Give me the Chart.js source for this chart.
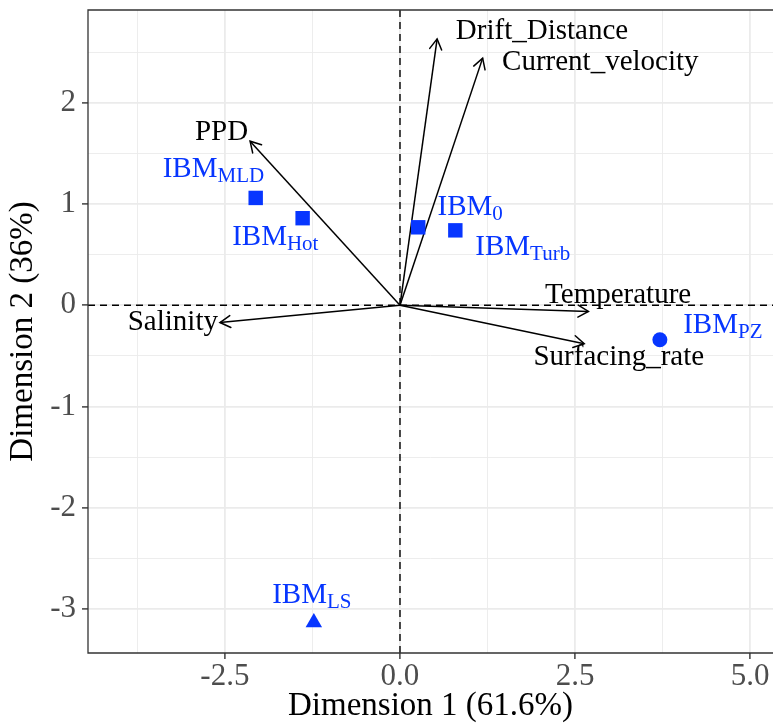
<!DOCTYPE html>
<html>
<head>
<meta charset="utf-8">
<title>PCA biplot</title>
<script src="https://cdn.jsdelivr.net/npm/chart.js@4/dist/chart.umd.min.js"></script>
<style>
  html, body { margin: 0; padding: 0; overflow: hidden; background: #ffffff; }
  #biplot { display: block; }
</style>
</head>
<body>
<canvas id="biplot" width="773" height="723" style="width:773px;height:723px"></canvas>
<script>
// Variable loadings (arrows) on the first two dimensions
const variables   = ['Drift_Distance', 'Current_velocity', 'PPD', 'Salinity', 'Temperature', 'Surfacing_rate'];
const loadingDim1 = [0.53, 1.18, -2.14, -2.57, 2.69, 2.63];
const loadingDim2 = [2.63, 2.44, 1.62, -0.17, -0.06, -0.38];

// Scenario scores (points); label is "IBM" with the scenario as subscript
const scenarios = ['MLD', 'Hot', '0', 'Turb', 'PZ', 'LS'];
const scoreDim1 = [-2.06, -1.39, 0.26, 0.79, 3.71, -1.23];
const scoreDim2 = [1.06, 0.86, 0.77, 0.74, -0.34, -3.13];

// Axis ticks
const xTicks      = [-2.5, 0, 2.5, 5];
const xMinorTicks = [-3.75, -1.25, 1.25, 3.75];
const yTicks      = [-3, -2, -1, 0, 1, 2];
const yMinorTicks = [-2.5, -1.5, -0.5, 0.5, 1.5, 2.5];
const xLimits = [-4.454, 5.325];
const yLimits = [-3.432, 2.915];

// ---- styling ----
const SERIF = '"Liberation Serif", "Times New Roman", Times, serif';
const BLUE = '#0736ff';
const pointShapes = ['rect', 'rect', 'rect', 'rect', 'circle', 'triangle'];
const pointSizes  = [10.2, 10.2, 10.2, 10.2, 7.5, 9.5];
// text placement relative to the mark, in pixels
const varLabelPlacement = [
  { align: 'left',   dx: 18.7, dy: 0 },
  { align: 'left',   dx: 19.4, dy: 12 },
  { align: 'right',  dx: -2,   dy: -0.7 },
  { align: 'right',  dx: -2,   dy: 7.3 },
  { align: 'center', dx: 29.7, dy: -8.4 },
  { align: 'center', dx: 34.6, dy: 21 }
];
const scenLabelPlacement = [
  { align: 'left',   dx: -93,   dy: -20.7 },
  { align: 'left',   dx: -70.5, dy: 27 },
  { align: 'left',   dx: 19.3,  dy: -12 },
  { align: 'left',   dx: 20,    dy: 25 },
  { align: 'left',   dx: 23.3,  dy: -6.7 },
  { align: 'center', dx: -2,    dy: -19 }
];

const isIn = (arr, v) => arr.some(a => Math.abs(a - v) < 1e-9);

// keep the panel exactly where the axes' fixed sizes put it
function noEdgePadding(scale) {
  scale.paddingLeft = 0;
  scale.paddingRight = 0;
  scale.paddingTop = 0;
  scale.paddingBottom = 0;
}

const datasets = [];
// scenario points (top)
datasets.push({
  type: 'scatter',
  order: 0,
  data: scoreDim1.map((v, i) => ({ x: v, y: scoreDim2[i] })),
  pointStyle: pointShapes,
  pointRadius: pointSizes,
  backgroundColor: BLUE,
  borderColor: BLUE,
  borderWidth: 0
});
// loading arrows from the origin
variables.forEach((name, i) => {
  datasets.push({
    type: 'line',
    order: 1,
    label: name,
    data: [{ x: 0, y: 0 }, { x: loadingDim1[i], y: loadingDim2[i] }],
    borderColor: '#000000',
    borderWidth: 1.5,
    pointRadius: 0,
    fill: false,
    tension: 0
  });
});
// dashed reference lines through the origin
datasets.push({
  type: 'line', order: 2,
  data: [{ x: xLimits[0], y: 0 }, { x: xLimits[1], y: 0 }],
  borderColor: '#000000', borderWidth: 1.4, borderDash: [7, 5], pointRadius: 0, fill: false
});
datasets.push({
  type: 'line', order: 2,
  data: [{ x: 0, y: yLimits[0] }, { x: 0, y: yLimits[1] }],
  borderColor: '#000000', borderWidth: 1.4, borderDash: [7, 5], pointRadius: 0, fill: false
});

const biplotOverlay = {
  id: 'biplotOverlay',
  afterDatasetsDraw(chart) {
    const { ctx, chartArea, scales: { x, y } } = chart;
    ctx.save();

    // open arrowheads on the loading vectors
    ctx.strokeStyle = '#000000';
    ctx.lineWidth = 1.5;
    ctx.lineCap = 'round';
    variables.forEach((name, i) => {
      const x0 = x.getPixelForValue(0), y0 = y.getPixelForValue(0);
      const x1 = x.getPixelForValue(loadingDim1[i]), y1 = y.getPixelForValue(loadingDim2[i]);
      const ang = Math.atan2(y1 - y0, x1 - x0);
      const len = 12, spread = Math.PI / 6;
      ctx.beginPath();
      ctx.moveTo(x1 - len * Math.cos(ang - spread), y1 - len * Math.sin(ang - spread));
      ctx.lineTo(x1, y1);
      ctx.lineTo(x1 - len * Math.cos(ang + spread), y1 - len * Math.sin(ang + spread));
      ctx.stroke();
    });

    // variable names
    ctx.fillStyle = '#000000';
    ctx.textBaseline = 'alphabetic';
    ctx.font = '29px ' + SERIF;
    variables.forEach((name, i) => {
      const p = varLabelPlacement[i];
      ctx.textAlign = p.align;
      ctx.fillText(name, x.getPixelForValue(loadingDim1[i]) + p.dx, y.getPixelForValue(loadingDim2[i]) + p.dy);
    });

    // scenario names: IBM with subscript
    ctx.fillStyle = BLUE;
    ctx.textAlign = 'left';
    const mainFont = '29px ' + SERIF, subFont = '21px ' + SERIF;
    scenarios.forEach((sub, i) => {
      const p = scenLabelPlacement[i];
      ctx.font = mainFont;
      const wMain = ctx.measureText('IBM').width;
      ctx.font = subFont;
      const wSub = ctx.measureText(sub).width;
      const px = x.getPixelForValue(scoreDim1[i]) + p.dx;
      const py = y.getPixelForValue(scoreDim2[i]) + p.dy;
      const left = p.align === 'center' ? px - (wMain + wSub) / 2 : px;
      ctx.font = mainFont;
      ctx.fillText('IBM', left, py);
      ctx.font = subFont;
      ctx.fillText(sub, left + wMain, py + 4.5);
    });

    // panel border: left, top and bottom (the panel runs on past the right edge)
    ctx.strokeStyle = '#333333';
    ctx.lineWidth = 1.3;
    ctx.lineCap = 'butt';
    ctx.beginPath();
    ctx.moveTo(chartArea.right + 2, chartArea.top);
    ctx.lineTo(chartArea.left, chartArea.top);
    ctx.lineTo(chartArea.left, chartArea.bottom);
    ctx.lineTo(chartArea.right + 2, chartArea.bottom);
    ctx.stroke();
    ctx.restore();
  }
};

new Chart(document.getElementById('biplot'), {
  type: 'scatter',
  data: { datasets },
  plugins: [biplotOverlay],
  options: {
    responsive: false,
    maintainAspectRatio: false,
    devicePixelRatio: 1,
    animation: false,
    events: [],
    layout: { autoPadding: false, padding: { top: 10, right: 0, bottom: 0, left: 0 } },
    plugins: { legend: { display: false }, tooltip: { enabled: false } },
    scales: {
      x: {
        type: 'linear',
        position: 'bottom',
        min: xLimits[0],
        max: xLimits[1],
        afterFit(scale) { scale.height = 70; noEdgePadding(scale); },
        afterBuildTicks(scale) {
          scale.ticks = [...xMinorTicks, ...xTicks].sort((a, b) => a - b).map(v => ({ value: v }));
        },
        border: { display: false },
        grid: {
          color: '#ebebeb',
          lineWidth: c => (c.tick && isIn(xTicks, c.tick.value)) ? 1.8 : 0.9,
          drawTicks: true,
          tickLength: 6,
          tickWidth: 1.4,
          tickColor: c => (c.tick && isIn(xTicks, c.tick.value)) ? '#333333' : 'rgba(0,0,0,0)'
        },
        ticks: {
          autoSkip: false,
          maxRotation: 0,
          padding: 2,
          color: '#4d4d4d',
          font: { family: SERIF, size: 31, lineHeight: 1 },
          callback: v => isIn(xTicks, v) ? Number(v).toFixed(1) : ''
        },
        title: {
          display: true,
          text: 'Dimension 1 (61.6%)',
          color: '#000000',
          font: { family: SERIF, size: 33, lineHeight: 1 },
          padding: { top: 0, bottom: 0 }
        }
      },
      y: {
        type: 'linear',
        position: 'left',
        min: yLimits[0],
        max: yLimits[1],
        afterFit(scale) { scale.width = 88; noEdgePadding(scale); },
        afterBuildTicks(scale) {
          scale.ticks = [...yMinorTicks, ...yTicks].sort((a, b) => a - b).map(v => ({ value: v }));
        },
        border: { display: false },
        grid: {
          color: '#ebebeb',
          lineWidth: c => (c.tick && isIn(yTicks, c.tick.value)) ? 1.8 : 0.9,
          drawTicks: true,
          tickLength: 6,
          tickWidth: 1.4,
          tickColor: c => (c.tick && isIn(yTicks, c.tick.value)) ? '#333333' : 'rgba(0,0,0,0)'
        },
        ticks: {
          autoSkip: false,
          padding: 6,
          color: '#4d4d4d',
          font: { family: SERIF, size: 31, lineHeight: 1 },
          callback: v => isIn(yTicks, v) ? String(v) : ''
        },
        title: {
          display: true,
          text: 'Dimension 2 (36%)',
          color: '#000000',
          font: { family: SERIF, size: 33, lineHeight: 1 },
          padding: { top: 7, bottom: 0 }
        }
      }
    }
  }
});
</script>
</body>
</html>
